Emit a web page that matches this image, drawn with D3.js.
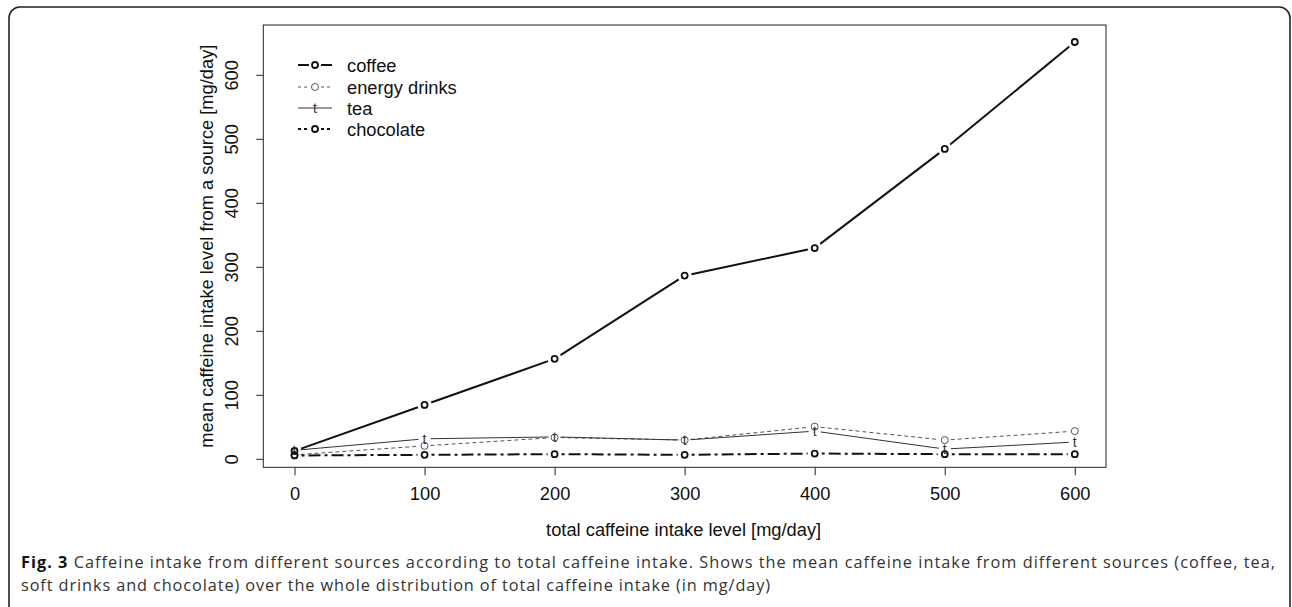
<!DOCTYPE html>
<html><head><meta charset="utf-8">
<script src="https://cdn.jsdelivr.net/npm/d3@7"></script>
<style>
body{margin:0;background:#fff;}
svg{display:block;}
</style></head>
<body>
<svg id="c" width="1292" height="607"></svg>
<script>
const xLevels = [0, 100, 200, 300, 400, 500, 600];
const coffee = [13, 85, 157, 287, 330, 485, 652];
const energyDrinks = [7, 21, 34, 30, 51, 30, 44];
const tea = [14, 32, 35, 30, 44, 16, 27];
const chocolate = [6, 7, 8, 7, 9, 8, 8];
const xTicks = [0, 100, 200, 300, 400, 500, 600];
const yTicks = [0, 100, 200, 300, 400, 500, 600];
const seriesNames = ["coffee", "energy drinks", "tea", "chocolate"];

const svg = d3.select("#c");
const L = 263.3, R = 1106, T = 25, B = 467.3;
const x = d3.scaleLinear().domain([-24, 624]).range([L, R]);
const y = d3.scaleLinear().domain([-12.5, 678.6]).range([B, T]);

// outer frame
svg.append("rect").attr("x", 9).attr("y", 7).attr("width", 1281).attr("height", 610)
  .attr("rx", 11).attr("fill", "none").attr("stroke", "#222").attr("stroke-width", 1.6);

const font = "Liberation Sans, Arial, sans-serif";
const fs = 18.3;

// box
svg.append("rect").attr("x", L).attr("y", T).attr("width", R - L).attr("height", B - T)
  .attr("fill", "none").attr("stroke", "#222").attr("stroke-width", 1);

// axes
const xAxis = d3.axisBottom(x).tickValues(xTicks).tickSize(8).tickFormat(d3.format("d"));
const gx = svg.append("g").attr("transform", `translate(0,${B})`).call(xAxis);
gx.select(".domain").remove();
gx.selectAll("text").attr("font-family", font).attr("font-size", fs).attr("fill", "#111")
  .attr("y", 32.5).attr("dy", null);
gx.selectAll("line").attr("stroke", "#222");

const yAxis = d3.axisLeft(y).tickValues(yTicks).tickSize(7).tickFormat(d3.format("d"));
const gy = svg.append("g").attr("transform", `translate(${L},0)`).call(yAxis);
gy.select(".domain").remove();
gy.selectAll("line").attr("stroke", "#222");
gy.selectAll("text").attr("font-family", font).attr("font-size", fs).attr("fill", "#111")
  .attr("x", null).attr("dy", null).attr("text-anchor", "middle")
  .attr("transform", d => `translate(${-25},${y(d)}) rotate(-90)`).attr("y", 0);
gy.selectAll(".tick").attr("transform", null);
gy.selectAll(".tick line").attr("transform", d => `translate(0,${y(d)})`);

// titles
svg.append("text").attr("x", (L + R) / 2 - 1).attr("y", 536).attr("text-anchor", "middle")
  .attr("font-family", font).attr("font-size", fs).attr("fill", "#111")
  .text("total caffeine intake level [mg/day]");
svg.append("text").attr("transform", `translate(213,${(T + B) / 2}) rotate(-90)`).attr("text-anchor", "middle")
  .attr("font-family", font).attr("font-size", fs).attr("fill", "#111")
  .text("mean caffeine intake level from a source [mg/day]");

// series
const styles = [
  {data: coffee, color: "#111", width: 2, dash: null, mark: "circle", r: 3, mw: 1.8, gap: 7},
  {data: energyDrinks, color: "#555", width: 1, dash: "4,3", mark: "circle", r: 3.5, mw: 1, gap: 6},
  {data: tea, color: "#333", width: 1, dash: null, mark: "t", gap: 6},
  {data: chocolate, color: "#111", width: 2, dash: "3,4,12,4", mark: "circle", r: 3, mw: 1.8, gap: 7}
];

const plotG = svg.append("g");
styles.forEach(s => {
  const pts = xLevels.map((v, i) => [x(v), y(s.data[i])]);
  for (let i = 0; i < pts.length - 1; i++) {
    const [x1, y1] = pts[i], [x2, y2] = pts[i + 1];
    const dx = x2 - x1, dy = y2 - y1, len = Math.hypot(dx, dy);
    if (len <= 2 * s.gap) continue;
    const ux = dx / len, uy = dy / len;
    plotG.append("line")
      .attr("x1", x1 + ux * s.gap).attr("y1", y1 + uy * s.gap)
      .attr("x2", x2 - ux * s.gap).attr("y2", y2 - uy * s.gap)
      .attr("stroke", s.color).attr("stroke-width", s.width)
      .attr("stroke-dasharray", s.dash);
  }
  pts.forEach(p => {
    if (s.mark === "circle") {
      plotG.append("circle").attr("cx", p[0]).attr("cy", p[1]).attr("r", s.r)
        .attr("fill", "none").attr("stroke", s.color).attr("stroke-width", s.mw);
    } else {
      plotG.append("text").attr("x", p[0]).attr("y", p[1] + 5).attr("text-anchor", "middle")
        .attr("font-family", font).attr("font-size", 14).attr("fill", s.color).text("t");
    }
  });
});

// legend
const legY = [65, 87, 108, 129];
const lg = svg.append("g");
styles.forEach((s, i) => {
  const ly = legY[i];
  lg.append("line").attr("x1", 298).attr("x2", 309).attr("y1", ly).attr("y2", ly)
    .attr("stroke", s.color).attr("stroke-width", s.width).attr("stroke-dasharray", s.dash ? "3,3" : null);
  lg.append("line").attr("x1", 321).attr("x2", 332).attr("y1", ly).attr("y2", ly)
    .attr("stroke", s.color).attr("stroke-width", s.width).attr("stroke-dasharray", s.dash ? "3,3" : null);
  if (s.mark === "circle") {
    lg.append("circle").attr("cx", 315).attr("cy", ly).attr("r", s.r)
      .attr("fill", "none").attr("stroke", s.color).attr("stroke-width", s.mw);
  } else {
    lg.append("line").attr("x1", 309).attr("x2", 321).attr("y1", ly).attr("y2", ly)
      .attr("stroke", s.color).attr("stroke-width", 1);
    lg.append("text").attr("x", 315).attr("y", ly + 5).attr("text-anchor", "middle")
      .attr("font-family", font).attr("font-size", 14).attr("fill", s.color).text("t");
  }
  lg.append("text").attr("x", 347).attr("y", ly + 6.5).attr("font-family", font)
    .attr("font-size", fs).attr("fill", "#111").text(seriesNames[i]);
});

// caption
const capFont = "Open Sans, Noto Sans, sans-serif";
const capFs = 16.3;
const line1Text = "Fig. 3 Caffeine intake from different sources according to total caffeine intake. Shows the mean caffeine intake from different sources (coffee, tea,";
const line2Text = "soft drinks and chocolate) over the whole distribution of total caffeine intake (in mg/day)";
const c1 = svg.append("text").attr("x", 21).attr("y", 568).attr("font-family", capFont)
  .attr("font-size", capFs).attr("fill", "#333");
c1.append("tspan").attr("font-weight", "bold").attr("fill", "#111").text("Fig. 3");
c1.append("tspan").text(line1Text.slice(6));
const w1 = c1.node().getComputedTextLength();
c1.attr("letter-spacing", (1255 - w1) / line1Text.length);

const c2 = svg.append("text").attr("x", 21).attr("y", 590.5).attr("font-family", capFont)
  .attr("font-size", capFs).attr("fill", "#333")
  .text(line2Text);
const w2 = c2.node().getComputedTextLength();
c2.attr("letter-spacing", (750 - w2) / line2Text.length);
</script>
</body></html>
